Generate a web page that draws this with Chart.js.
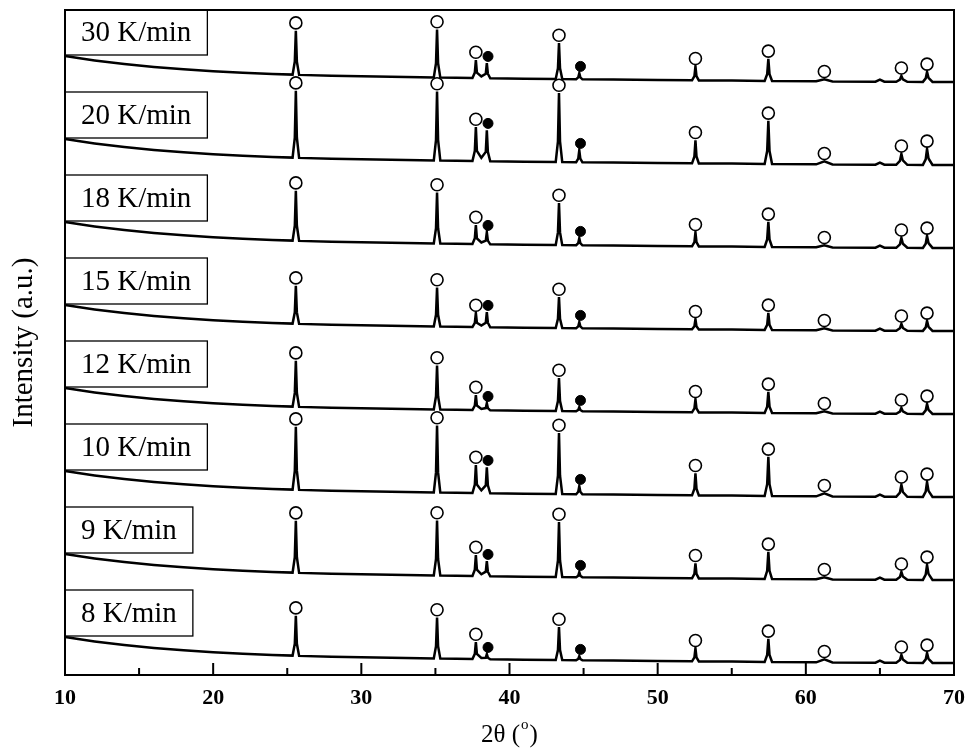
<!DOCTYPE html>
<html>
<head>
<meta charset="utf-8">
<script src="https://cdn.jsdelivr.net/npm/chart.js@4.4.1/dist/chart.umd.min.js"></script>
<style>
  body { margin: 0; background: #fff; }
  #chart { display: block; }
</style>
</head>
<body>
<canvas id="chart" width="975" height="751"></canvas>
<script>
// 2-theta positions shared by all patterns
const twoTheta = [10, 11, 12, 13, 14, 16, 18, 20, 22, 24,
  25.36, 25.51, 25.58, 25.65, 25.8,
  28, 31, 34,
  34.89, 35.04, 35.11, 35.18, 35.33,
  37.5, 37.66, 37.73, 37.8, 38.1, 38.4, 38.47, 38.54, 38.7,
  41,
  43.12, 43.27, 43.34, 43.41, 43.56,
  44.5, 44.64, 44.71, 44.78, 44.92,
  47, 50,
  52.32, 52.48, 52.55, 52.62, 52.78,
  55,
  57.22, 57.39, 57.47, 57.55, 57.72,
  60.7, 61.25, 61.8,
  64.7, 65.0, 65.3,
  66.1, 66.35, 66.45, 66.55, 66.85,
  67.9, 68.09, 68.18, 68.28, 68.55,
  70];

const rateLabels = ['8 K/min', '9 K/min', '10 K/min', '12 K/min', '15 K/min', '18 K/min', '20 K/min', '30 K/min'];

// intensities (a.u.), bottom pattern first
const pattern8 = [380, 357, 336, 317, 300, 271, 247, 228, 212, 200,
  194, 313, 593, 312, 191, 182, 174, 167,
  166, 288, 575, 288, 164,
  160, 211, 330, 211, 170, 173, 208, 173, 157, 153,
  150, 249, 480, 249, 149,
  148, 160, 188, 160, 147, 144, 140,
  137, 176, 267, 176, 136, 134,
  131, 200, 361, 200, 130,
  127, 157, 126, 123, 143, 123,
  122, 150, 202, 154, 122,
  121, 156, 221, 161, 121, 120];
const pattern9 = [380, 357, 336, 317, 300, 271, 247, 228, 212, 200,
  194, 349, 713, 348, 191, 182, 174, 167,
  166, 330, 715, 330, 164,
  160, 223, 370, 223, 177, 203, 308, 203, 157, 153,
  150, 315, 700, 315, 149,
  148, 163, 198, 163, 147, 144, 140,
  137, 182, 287, 182, 136, 134,
  131, 212, 401, 212, 130,
  127, 147, 126, 123, 143, 123,
  122, 150, 202, 154, 122,
  121, 174, 271, 181, 121, 120];
const pattern10 = [380, 357, 336, 317, 300, 271, 247, 228, 212, 200,
  194, 382, 823, 381, 191, 182, 174, 167,
  166, 366, 835, 366, 164,
  160, 244, 440, 244, 186, 236, 418, 236, 157, 153,
  150, 333, 760, 333, 149,
  148, 172, 228, 172, 147, 144, 140,
  137, 203, 357, 203, 136, 134,
  131, 248, 521, 248, 130,
  127, 157, 126, 123, 143, 123,
  122, 164, 242, 170, 122,
  121, 174, 271, 181, 121, 120];
const pattern12 = [380, 357, 336, 317, 300, 271, 247, 228, 212, 200,
  194, 331, 653, 330, 191, 182, 174, 167,
  166, 297, 605, 297, 164,
  160, 205, 310, 205, 170, 179, 228, 179, 157, 153,
  150, 249, 480, 249, 149,
  148, 160, 188, 160, 147, 144, 140,
  137, 176, 267, 176, 136, 134,
  131, 194, 341, 194, 130,
  127, 147, 126, 123, 143, 123,
  122, 143, 182, 146, 122,
  121, 156, 221, 161, 121, 120];
const pattern15 = [380, 357, 336, 317, 300, 271, 247, 228, 212, 200,
  194, 307, 573, 306, 191, 182, 174, 167,
  166, 282, 555, 282, 164,
  160, 202, 300, 202, 174, 203, 308, 203, 157, 153,
  150, 243, 460, 243, 149,
  148, 166, 208, 166, 147, 144, 140,
  137, 167, 237, 167, 136, 134,
  131, 182, 301, 182, 130,
  127, 147, 126, 123, 143, 123,
  122, 147, 192, 150, 122,
  121, 156, 221, 161, 121, 120];
const pattern18 = [380, 357, 336, 317, 300, 271, 247, 228, 212, 200,
  194, 343, 693, 342, 191, 182, 174, 167,
  166, 318, 675, 318, 164,
  160, 217, 350, 217, 175, 194, 278, 194, 157, 153,
  150, 276, 570, 276, 149,
  148, 169, 218, 169, 147, 144, 140,
  137, 179, 277, 179, 136, 134,
  131, 206, 381, 206, 130,
  127, 147, 126, 123, 143, 123,
  122, 157, 222, 162, 122,
  121, 163, 241, 169, 121, 120];
const pattern20 = [380, 357, 336, 317, 300, 271, 247, 228, 212, 200,
  194, 394, 863, 393, 191, 182, 174, 167,
  166, 372, 855, 372, 164,
  160, 262, 500, 262, 192, 251, 468, 251, 157, 153,
  150, 357, 840, 357, 149,
  148, 184, 268, 184, 147, 144, 140,
  137, 206, 367, 206, 136, 134,
  131, 260, 561, 260, 130,
  127, 157, 126, 123, 143, 123,
  122, 161, 232, 166, 122,
  121, 177, 281, 185, 121, 120];
const pattern30 = [380, 357, 336, 317, 300, 271, 247, 228, 212, 200,
  194, 325, 633, 324, 191, 182, 174, 167,
  166, 309, 645, 309, 164,
  160, 214, 340, 214, 176, 203, 308, 203, 157, 153,
  150, 258, 510, 258, 149,
  148, 166, 208, 166, 147, 144, 140,
  137, 179, 277, 179, 136, 134,
  131, 197, 351, 197, 130,
  127, 147, 126, 123, 143, 123,
  122, 143, 182, 146, 122,
  121, 156, 221, 161, 121, 120];

// vertical shift of each pattern in the stack
const offsets = [0, 830, 1660, 2490, 3320, 4150, 4980, 5810];

// which sample points carry a phase marker (open = corundum, filled = Al)
const openPeakIdx = [12, 20, 25, 35, 47, 53, 57, 64, 69];
const filledPeakIdx = [29, 40];

const xTicks = [10, 20, 30, 40, 50, 60, 70];
const xMinorTicks = [15, 25, 35, 45, 55, 65];

const patterns = [pattern8, pattern9, pattern10, pattern12, pattern15, pattern18, pattern20, pattern30];

const serif = '"Liberation Serif", "Times New Roman", serif';
const markerGap = 78;

const datasets = [];
patterns.forEach((p, k) => {
  datasets.push({
    data: twoTheta.map((t, i) => ({ x: t, y: p[i] + offsets[k] })),
    borderColor: '#000',
    borderWidth: 2.5,
    pointRadius: 0,
    tension: 0,
    order: 3
  });
  datasets.push({
    data: openPeakIdx.map(i => ({ x: twoTheta[i], y: p[i] + offsets[k] + markerGap })),
    showLine: false,
    pointRadius: 6,
    pointBackgroundColor: '#fff',
    pointBorderColor: '#000',
    pointBorderWidth: 1.6,
    order: 1
  });
  datasets.push({
    data: filledPeakIdx.map(i => ({ x: twoTheta[i] + 0.08, y: p[i] + offsets[k] + markerGap - 10 })),
    showLine: false,
    pointRadius: 5,
    pointBackgroundColor: '#000',
    pointBorderColor: '#000',
    pointBorderWidth: 1,
    order: 1
  });
});

const framePlugin = {
  id: 'frame',
  afterDatasetsDraw(chart) {
    const { ctx, chartArea: a, scales: { x, y } } = chart;
    ctx.save();

    // rate label boxes
    ctx.font = '29px ' + serif;
    ctx.textAlign = 'center';
    ctx.textBaseline = 'middle';
    rateLabels.forEach((label, k) => {
      const bottom = y.getPixelForValue(offsets[k] + patterns[k][0]) - 1;
      const top = Math.max(a.top, bottom - 46);
      const w = ctx.measureText(label).width + 32;
      ctx.fillStyle = '#fff';
      ctx.fillRect(a.left, top, w, bottom - top);
      ctx.strokeStyle = '#000';
      ctx.lineWidth = 1.3;
      ctx.strokeRect(a.left, top, w, bottom - top);
      ctx.fillStyle = '#000';
      ctx.fillText(label, a.left + w / 2, (top + bottom) / 2 + 1);
    });

    // frame
    ctx.lineWidth = 2;
    ctx.strokeStyle = '#000';
    ctx.strokeRect(a.left, a.top, a.right - a.left, a.bottom - a.top);

    // inward ticks on the bottom axis
    ctx.beginPath();
    xTicks.forEach(v => {
      const px = x.getPixelForValue(v);
      ctx.moveTo(px, a.bottom);
      ctx.lineTo(px, a.bottom - 12);
    });
    xMinorTicks.forEach(v => {
      const px = x.getPixelForValue(v);
      ctx.moveTo(px, a.bottom);
      ctx.lineTo(px, a.bottom - 7);
    });
    ctx.stroke();

    // axis titles
    ctx.fillStyle = '#000';
    ctx.textAlign = 'left';
    ctx.textBaseline = 'alphabetic';
    const big = '25px ' + serif, small = '15px ' + serif;
    ctx.font = big;
    const p1 = '2\u03b8 (', p3 = ')';
    const w1 = ctx.measureText(p1).width, w3 = ctx.measureText(p3).width;
    ctx.font = small;
    const w2 = ctx.measureText('o').width + 2;
    const cx = (a.left + a.right) / 2;
    const sx = cx - (w1 + w2 + w3) / 2;
    const base = 742;
    ctx.font = big;
    ctx.fillText(p1, sx, base);
    ctx.font = small;
    ctx.fillText('o', sx + w1 + 1, base - 13);
    ctx.font = big;
    ctx.fillText(p3, sx + w1 + w2, base);

    ctx.translate(32, (a.top + a.bottom) / 2);
    ctx.rotate(-Math.PI / 2);
    ctx.textAlign = 'center';
    ctx.font = '29px ' + serif;
    ctx.fillText('Intensity (a.u.)', 0, 0);
    ctx.restore();
  }
};

new Chart(document.getElementById('chart').getContext('2d'), {
  type: 'line',
  data: { datasets: datasets },
  options: {
    responsive: false,
    animation: false,
    devicePixelRatio: 1,
    layout: { padding: { left: 65, right: 18, top: 10, bottom: 29.6 } },
    plugins: { legend: { display: false }, tooltip: { enabled: false } },
    scales: {
      x: {
        type: 'linear',
        min: 10,
        max: 70,
        afterBuildTicks: s => { s.ticks = xTicks.map(v => ({ value: v })); },
        grid: { display: false, drawTicks: false },
        border: { display: false },
        ticks: { color: '#000', padding: 10, font: { family: serif, size: 22, weight: 'bold' } }
      },
      y: {
        display: false,
        min: 0,
        max: 6650
      }
    }
  },
  plugins: [framePlugin]
});
</script>
</body>
</html>
